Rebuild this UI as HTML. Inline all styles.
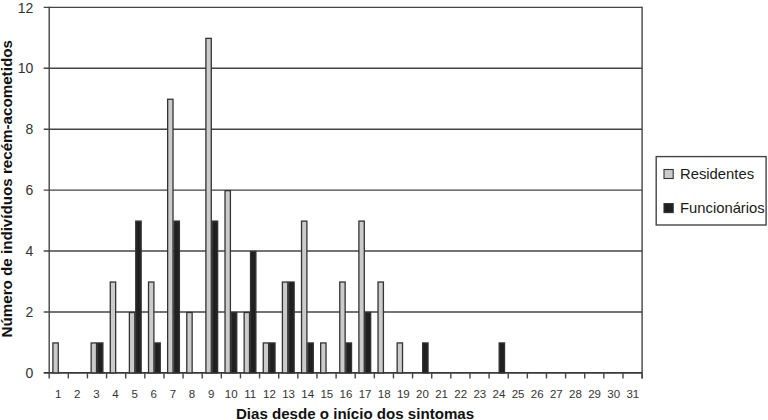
<!DOCTYPE html>
<html><head><meta charset="utf-8"><style>
html,body{margin:0;padding:0;background:#fff;}
body{width:768px;height:420px;overflow:hidden;}
svg{display:block;}
text{font-family:"Liberation Sans",Arial,sans-serif;fill:#222;}
.xl{font-size:11.5px;text-anchor:middle;fill:#333;}
.yl{font-size:14px;text-anchor:end;fill:#333;}
.xt{font-size:15.1px;font-weight:bold;text-anchor:middle;fill:#111;}
.yt{font-size:14px;font-weight:bold;text-anchor:middle;fill:#111;}
.lg{font-size:14.8px;fill:#1a1a1a;}
</style></head><body>
<svg width="768" height="420" viewBox="0 0 768 420">
<rect width="768" height="420" fill="#fff"/>
<line x1="43.70" y1="372.90" x2="642.10" y2="372.90" stroke="#383838" stroke-width="1.8"/>
<line x1="43.70" y1="311.98" x2="642.10" y2="311.98" stroke="#454545" stroke-width="1.4"/>
<line x1="43.70" y1="251.07" x2="642.10" y2="251.07" stroke="#454545" stroke-width="1.4"/>
<line x1="43.70" y1="190.15" x2="642.10" y2="190.15" stroke="#454545" stroke-width="1.4"/>
<line x1="43.70" y1="129.23" x2="642.10" y2="129.23" stroke="#454545" stroke-width="1.4"/>
<line x1="43.70" y1="68.32" x2="642.10" y2="68.32" stroke="#454545" stroke-width="1.4"/>
<line x1="43.70" y1="7.40" x2="642.10" y2="7.40" stroke="#454545" stroke-width="1.4"/>
<line x1="49.20" y1="6.70" x2="49.20" y2="373.60" stroke="#454545" stroke-width="1.4"/>
<line x1="642.10" y1="6.70" x2="642.10" y2="378.40" stroke="#454545" stroke-width="1.4"/>
<line x1="49.20" y1="372.90" x2="49.20" y2="378.40" stroke="#454545" stroke-width="1.4"/>
<line x1="68.33" y1="372.90" x2="68.33" y2="378.40" stroke="#454545" stroke-width="1.4"/>
<line x1="87.45" y1="372.90" x2="87.45" y2="378.40" stroke="#454545" stroke-width="1.4"/>
<line x1="106.58" y1="372.90" x2="106.58" y2="378.40" stroke="#454545" stroke-width="1.4"/>
<line x1="125.70" y1="372.90" x2="125.70" y2="378.40" stroke="#454545" stroke-width="1.4"/>
<line x1="144.83" y1="372.90" x2="144.83" y2="378.40" stroke="#454545" stroke-width="1.4"/>
<line x1="163.95" y1="372.90" x2="163.95" y2="378.40" stroke="#454545" stroke-width="1.4"/>
<line x1="183.08" y1="372.90" x2="183.08" y2="378.40" stroke="#454545" stroke-width="1.4"/>
<line x1="202.21" y1="372.90" x2="202.21" y2="378.40" stroke="#454545" stroke-width="1.4"/>
<line x1="221.33" y1="372.90" x2="221.33" y2="378.40" stroke="#454545" stroke-width="1.4"/>
<line x1="240.46" y1="372.90" x2="240.46" y2="378.40" stroke="#454545" stroke-width="1.4"/>
<line x1="259.58" y1="372.90" x2="259.58" y2="378.40" stroke="#454545" stroke-width="1.4"/>
<line x1="278.71" y1="372.90" x2="278.71" y2="378.40" stroke="#454545" stroke-width="1.4"/>
<line x1="297.84" y1="372.90" x2="297.84" y2="378.40" stroke="#454545" stroke-width="1.4"/>
<line x1="316.96" y1="372.90" x2="316.96" y2="378.40" stroke="#454545" stroke-width="1.4"/>
<line x1="336.09" y1="372.90" x2="336.09" y2="378.40" stroke="#454545" stroke-width="1.4"/>
<line x1="355.21" y1="372.90" x2="355.21" y2="378.40" stroke="#454545" stroke-width="1.4"/>
<line x1="374.34" y1="372.90" x2="374.34" y2="378.40" stroke="#454545" stroke-width="1.4"/>
<line x1="393.46" y1="372.90" x2="393.46" y2="378.40" stroke="#454545" stroke-width="1.4"/>
<line x1="412.59" y1="372.90" x2="412.59" y2="378.40" stroke="#454545" stroke-width="1.4"/>
<line x1="431.72" y1="372.90" x2="431.72" y2="378.40" stroke="#454545" stroke-width="1.4"/>
<line x1="450.84" y1="372.90" x2="450.84" y2="378.40" stroke="#454545" stroke-width="1.4"/>
<line x1="469.97" y1="372.90" x2="469.97" y2="378.40" stroke="#454545" stroke-width="1.4"/>
<line x1="489.09" y1="372.90" x2="489.09" y2="378.40" stroke="#454545" stroke-width="1.4"/>
<line x1="508.22" y1="372.90" x2="508.22" y2="378.40" stroke="#454545" stroke-width="1.4"/>
<line x1="527.35" y1="372.90" x2="527.35" y2="378.40" stroke="#454545" stroke-width="1.4"/>
<line x1="546.47" y1="372.90" x2="546.47" y2="378.40" stroke="#454545" stroke-width="1.4"/>
<line x1="565.60" y1="372.90" x2="565.60" y2="378.40" stroke="#454545" stroke-width="1.4"/>
<line x1="584.72" y1="372.90" x2="584.72" y2="378.40" stroke="#454545" stroke-width="1.4"/>
<line x1="603.85" y1="372.90" x2="603.85" y2="378.40" stroke="#454545" stroke-width="1.4"/>
<line x1="622.97" y1="372.90" x2="622.97" y2="378.40" stroke="#454545" stroke-width="1.4"/>
<line x1="642.10" y1="372.90" x2="642.10" y2="378.40" stroke="#454545" stroke-width="1.4"/>
<rect x="52.89" y="342.94" width="5.38" height="29.96" fill="#cbcbcb" stroke="#333" stroke-width="1.3"/>
<rect x="91.14" y="342.94" width="5.38" height="29.96" fill="#cbcbcb" stroke="#333" stroke-width="1.3"/>
<rect x="97.51" y="342.94" width="5.38" height="29.96" fill="#202020" stroke="#333" stroke-width="1.3"/>
<rect x="110.27" y="282.02" width="5.38" height="90.88" fill="#cbcbcb" stroke="#333" stroke-width="1.3"/>
<rect x="129.39" y="312.48" width="5.38" height="60.42" fill="#cbcbcb" stroke="#333" stroke-width="1.3"/>
<rect x="135.77" y="221.11" width="5.38" height="151.79" fill="#202020" stroke="#333" stroke-width="1.3"/>
<rect x="148.52" y="282.02" width="5.38" height="90.88" fill="#cbcbcb" stroke="#333" stroke-width="1.3"/>
<rect x="154.89" y="342.94" width="5.38" height="29.96" fill="#202020" stroke="#333" stroke-width="1.3"/>
<rect x="167.64" y="99.27" width="5.38" height="273.62" fill="#cbcbcb" stroke="#333" stroke-width="1.3"/>
<rect x="174.02" y="221.11" width="5.38" height="151.79" fill="#202020" stroke="#333" stroke-width="1.3"/>
<rect x="186.77" y="312.48" width="5.38" height="60.42" fill="#cbcbcb" stroke="#333" stroke-width="1.3"/>
<rect x="205.89" y="38.36" width="5.38" height="334.54" fill="#cbcbcb" stroke="#333" stroke-width="1.3"/>
<rect x="212.27" y="221.11" width="5.38" height="151.79" fill="#202020" stroke="#333" stroke-width="1.3"/>
<rect x="225.02" y="190.65" width="5.38" height="182.25" fill="#cbcbcb" stroke="#333" stroke-width="1.3"/>
<rect x="231.40" y="312.48" width="5.38" height="60.42" fill="#202020" stroke="#333" stroke-width="1.3"/>
<rect x="244.15" y="312.48" width="5.38" height="60.42" fill="#cbcbcb" stroke="#333" stroke-width="1.3"/>
<rect x="250.52" y="251.57" width="5.38" height="121.33" fill="#202020" stroke="#333" stroke-width="1.3"/>
<rect x="263.27" y="342.94" width="5.38" height="29.96" fill="#cbcbcb" stroke="#333" stroke-width="1.3"/>
<rect x="269.65" y="342.94" width="5.38" height="29.96" fill="#202020" stroke="#333" stroke-width="1.3"/>
<rect x="282.40" y="282.02" width="5.38" height="90.88" fill="#cbcbcb" stroke="#333" stroke-width="1.3"/>
<rect x="288.77" y="282.02" width="5.38" height="90.88" fill="#202020" stroke="#333" stroke-width="1.3"/>
<rect x="301.52" y="221.11" width="5.38" height="151.79" fill="#cbcbcb" stroke="#333" stroke-width="1.3"/>
<rect x="307.90" y="342.94" width="5.38" height="29.96" fill="#202020" stroke="#333" stroke-width="1.3"/>
<rect x="320.65" y="342.94" width="5.38" height="29.96" fill="#cbcbcb" stroke="#333" stroke-width="1.3"/>
<rect x="339.77" y="282.02" width="5.38" height="90.88" fill="#cbcbcb" stroke="#333" stroke-width="1.3"/>
<rect x="346.15" y="342.94" width="5.38" height="29.96" fill="#202020" stroke="#333" stroke-width="1.3"/>
<rect x="358.90" y="221.11" width="5.38" height="151.79" fill="#cbcbcb" stroke="#333" stroke-width="1.3"/>
<rect x="365.28" y="312.48" width="5.38" height="60.42" fill="#202020" stroke="#333" stroke-width="1.3"/>
<rect x="378.03" y="282.02" width="5.38" height="90.88" fill="#cbcbcb" stroke="#333" stroke-width="1.3"/>
<rect x="397.15" y="342.94" width="5.38" height="29.96" fill="#cbcbcb" stroke="#333" stroke-width="1.3"/>
<rect x="422.65" y="342.94" width="5.38" height="29.96" fill="#202020" stroke="#333" stroke-width="1.3"/>
<rect x="499.16" y="342.94" width="5.38" height="29.96" fill="#202020" stroke="#333" stroke-width="1.3"/>
<text x="58.16" y="397.8" class="xl">1</text>
<text x="77.29" y="397.8" class="xl">2</text>
<text x="96.41" y="397.8" class="xl">3</text>
<text x="115.54" y="397.8" class="xl">4</text>
<text x="134.67" y="397.8" class="xl">5</text>
<text x="153.79" y="397.8" class="xl">6</text>
<text x="172.92" y="397.8" class="xl">7</text>
<text x="192.04" y="397.8" class="xl">8</text>
<text x="211.17" y="397.8" class="xl">9</text>
<text x="231.20" y="397.8" class="xl">10</text>
<text x="250.32" y="397.8" class="xl">11</text>
<text x="269.45" y="397.8" class="xl">12</text>
<text x="288.57" y="397.8" class="xl">13</text>
<text x="307.70" y="397.8" class="xl">14</text>
<text x="326.82" y="397.8" class="xl">15</text>
<text x="345.95" y="397.8" class="xl">16</text>
<text x="365.08" y="397.8" class="xl">17</text>
<text x="384.20" y="397.8" class="xl">18</text>
<text x="403.33" y="397.8" class="xl">19</text>
<text x="422.45" y="397.8" class="xl">20</text>
<text x="441.58" y="397.8" class="xl">21</text>
<text x="460.70" y="397.8" class="xl">22</text>
<text x="479.83" y="397.8" class="xl">23</text>
<text x="498.96" y="397.8" class="xl">24</text>
<text x="518.08" y="397.8" class="xl">25</text>
<text x="537.21" y="397.8" class="xl">26</text>
<text x="556.33" y="397.8" class="xl">27</text>
<text x="575.46" y="397.8" class="xl">28</text>
<text x="594.59" y="397.8" class="xl">29</text>
<text x="613.71" y="397.8" class="xl">30</text>
<text x="632.84" y="397.8" class="xl">31</text>
<text x="33.3" y="378.00" class="yl">0</text>
<text x="33.3" y="317.08" class="yl">2</text>
<text x="33.3" y="256.17" class="yl">4</text>
<text x="33.3" y="195.25" class="yl">6</text>
<text x="33.3" y="134.33" class="yl">8</text>
<text x="33.3" y="73.42" class="yl">10</text>
<text x="33.3" y="12.50" class="yl">12</text>
<text x="355" y="418.7" class="xt">Dias desde o início dos sintomas</text>
<text transform="translate(11.6 188.8) rotate(-90) scale(1.084 1)" class="yt">Número de indivíduos recém-acometidos</text>
<rect x="656.2" y="156.6" width="109.9" height="68.4" fill="#fff" stroke="#454545" stroke-width="1.4"/>
<rect x="664" y="169.5" width="9.2" height="9" fill="#cbcbcb" stroke="#333" stroke-width="1.1"/>
<rect x="664" y="203.6" width="9.2" height="9" fill="#202020" stroke="#333" stroke-width="1.1"/>
<text x="680" y="178.8" class="lg">Residentes</text>
<text x="680" y="212.6" class="lg">Funcionários</text>
</svg>
</body></html>
